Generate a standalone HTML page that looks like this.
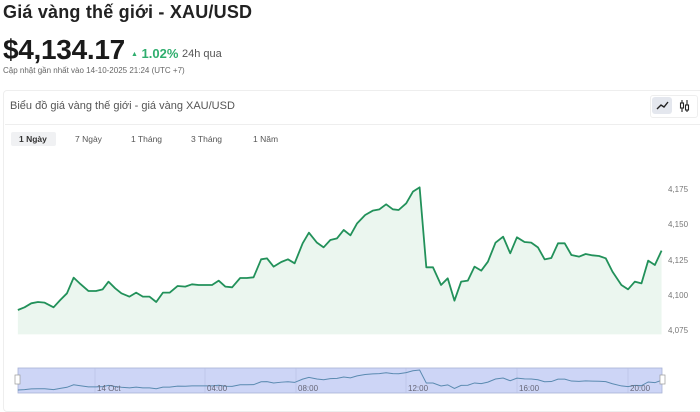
<!DOCTYPE html>
<html><head><meta charset="utf-8"><style>
body{margin:0;width:700px;height:400px;overflow:hidden;background:#fff;font-family:"Liberation Sans",sans-serif;position:relative;color:#222}
.a{position:absolute;white-space:nowrap}
</style></head><body>
<div class="a" style="left:3px;top:2px;font-size:18px;font-weight:bold;color:#222;letter-spacing:0.2px">Giá vàng thế giới - XAU/USD</div>
<div class="a" style="left:3px;top:34px;font-size:28px;font-weight:bold;color:#1a1a1a;letter-spacing:-0.3px">$4,134.17</div>
<div class="a" style="left:131px;top:46px;font-size:13px;font-weight:bold;color:#2fae6e"><span style="font-size:7px;vertical-align:2px">▲</span> 1.02%</div>
<div class="a" style="left:182px;top:48px;font-size:11px;color:#555">24h qua</div>
<div class="a" style="left:3px;top:66px;font-size:8px;color:#666">Cập nhật gần nhất vào 14-10-2025 21:24 (UTC +7)</div>
<div class="a" style="left:3px;top:90px;width:700px;height:320px;border:1px solid #eee;border-radius:4px"></div>
<div class="a" style="left:10px;top:100px;font-size:11px;color:#555">Biểu đồ giá vàng thế giới - giá vàng XAU/USD</div>
<div class="a" style="left:650px;top:95px;width:46px;height:21px;border:1px solid #eee;border-radius:3px"></div>
<div class="a" style="left:652px;top:97px;width:20px;height:17px;background:#e4e7ee;border-radius:3px"></div>
<svg class="a" style="left:652px;top:97px" width="44" height="18"><polyline points="5,12 9,8 12,10 16,5" fill="none" stroke="#222" stroke-width="1.4"/><g stroke="#222" fill="none" stroke-width="1.1"><line x1="30" y1="3" x2="30" y2="15"/><rect x="28.5" y="6" width="3" height="5" fill="#fff"/><line x1="35" y1="3" x2="35" y2="15"/><rect x="33.5" y="8" width="3" height="5" fill="#fff"/></g></svg>
<div class="a" style="left:5px;top:124px;width:695px;height:1px;background:#eee"></div>
<div class="a" style="left:11px;top:132px;width:45px;height:14px;background:#f0f1f3;border-radius:2px"></div>
<div class="a" style="left:19px;top:134px;font-size:8.5px;font-weight:bold;color:#333">1 Ngày</div>
<div class="a" style="left:75px;top:134px;font-size:8.5px;color:#555">7 Ngày</div>
<div class="a" style="left:131px;top:134px;font-size:8.5px;color:#555">1 Tháng</div>
<div class="a" style="left:191px;top:134px;font-size:8.5px;color:#555">3 Tháng</div>
<div class="a" style="left:253px;top:134px;font-size:8.5px;color:#555">1 Năm</div>
<svg class="a" style="left:0;top:0" width="700" height="400">
<g transform="matrix(0.4464,0,0,0.3333,0,170)">
<polygon points="40,493 40,420 55,412 70,400 85,396 100,398 120,412 135,390 150,370 165,323 180,342 198,363 215,363 230,358 243,335 258,355 272,370 290,380 305,368 320,380 335,380 350,396 365,368 380,368 398,348 415,350 430,343 445,345 460,345 475,345 490,332 505,350 520,352 538,324 553,324 568,322 585,268 598,265 613,290 630,276 645,268 660,280 678,220 692,188 710,218 725,232 740,210 755,205 770,180 785,196 800,160 818,135 835,122 850,118 865,103 880,118 893,120 910,100 925,65 940,52 955,292 970,292 988,345 1003,325 1018,392 1033,335 1048,332 1063,290 1078,302 1093,275 1110,218 1127,200 1143,250 1158,202 1175,216 1190,218 1205,232 1220,268 1235,264 1250,220 1265,220 1280,255 1297,260 1312,252 1327,256 1342,258 1357,265 1372,305 1392,345 1407,358 1422,335 1437,340 1452,272 1467,285 1482,242 1482,493" fill="#ebf6ef"/>
<polyline vector-effect="non-scaling-stroke" fill="none" stroke="#22915a" stroke-width="1.8" stroke-linejoin="round" points="40,420 55,412 70,400 85,396 100,398 120,412 135,390 150,370 165,323 180,342 198,363 215,363 230,358 243,335 258,355 272,370 290,380 305,368 320,380 335,380 350,396 365,368 380,368 398,348 415,350 430,343 445,345 460,345 475,345 490,332 505,350 520,352 538,324 553,324 568,322 585,268 598,265 613,290 630,276 645,268 660,280 678,220 692,188 710,218 725,232 740,210 755,205 770,180 785,196 800,160 818,135 835,122 850,118 865,103 880,118 893,120 910,100 925,65 940,52 955,292 970,292 988,345 1003,325 1018,392 1033,335 1048,332 1063,290 1078,302 1093,275 1110,218 1127,200 1143,250 1158,202 1175,216 1190,218 1205,232 1220,268 1235,264 1250,220 1265,220 1280,255 1297,260 1312,252 1327,256 1342,258 1357,265 1372,305 1392,345 1407,358 1422,335 1437,340 1452,272 1467,285 1482,242"/>
</g>
<g font-size="8" fill="#777" font-family="Liberation Sans,sans-serif">
<text x="668" y="192">4,175</text><text x="668" y="227">4,150</text><text x="668" y="263">4,125</text><text x="668" y="298">4,100</text><text x="668" y="333">4,075</text>
</g>
<rect x="18" y="368" width="644" height="25" fill="#cdd5f6" stroke="#a9b2d6" stroke-width="0.8"/>
<g stroke="#b6bfe2" stroke-width="0.6"><line x1="95" y1="368" x2="95" y2="393"/><line x1="205" y1="368" x2="205" y2="393"/><line x1="296" y1="368" x2="296" y2="393"/><line x1="406" y1="368" x2="406" y2="393"/><line x1="517" y1="368" x2="517" y2="393"/><line x1="628" y1="368" x2="628" y2="393"/></g>
<g transform="matrix(0.4464,0,0,0.0543,0,367.2)">
<polyline vector-effect="non-scaling-stroke" fill="none" stroke="#5a8ab0" stroke-width="1" points="40,420 55,412 70,400 85,396 100,398 120,412 135,390 150,370 165,323 180,342 198,363 215,363 230,358 243,335 258,355 272,370 290,380 305,368 320,380 335,380 350,396 365,368 380,368 398,348 415,350 430,343 445,345 460,345 475,345 490,332 505,350 520,352 538,324 553,324 568,322 585,268 598,265 613,290 630,276 645,268 660,280 678,220 692,188 710,218 725,232 740,210 755,205 770,180 785,196 800,160 818,135 835,122 850,118 865,103 880,118 893,120 910,100 925,65 940,52 955,292 970,292 988,345 1003,325 1018,392 1033,335 1048,332 1063,290 1078,302 1093,275 1110,218 1127,200 1143,250 1158,202 1175,216 1190,218 1205,232 1220,268 1235,264 1250,220 1265,220 1280,255 1297,260 1312,252 1327,256 1342,258 1357,265 1372,305 1392,345 1407,358 1422,335 1437,340 1452,272 1467,285 1482,242"/>
</g>
<g font-size="8" fill="#667" font-family="Liberation Sans,sans-serif">
<text x="97" y="391">14 Oct</text><text x="207" y="391">04:00</text><text x="298" y="391">08:00</text><text x="408" y="391">12:00</text><text x="519" y="391">16:00</text><text x="630" y="391">20:00</text>
</g>
<rect x="15" y="375" width="5" height="9" fill="#fff" stroke="#999" stroke-width="0.7"/>
<rect x="660" y="375" width="5" height="9" fill="#fff" stroke="#999" stroke-width="0.7"/>
</svg>
</body></html>
